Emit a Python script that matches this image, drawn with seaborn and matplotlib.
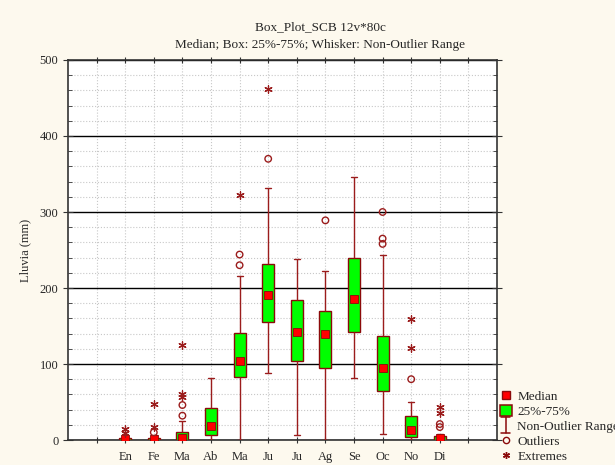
import numpy as np
import pandas as pd
import matplotlib
matplotlib.use("Agg")
import matplotlib.pyplot as plt
import seaborn as sns
from matplotlib.lines import Line2D
from matplotlib.patches import Patch
from matplotlib.legend_handler import HandlerBase
from matplotlib.ticker import MultipleLocator

# ---- data ----
months = ["En", "Fe", "Ma", "Ab", "Ma", "Ju", "Ju", "Ag", "Se", "Oc", "No", "Di"]
whisker_low = [0, 0, 0, 0, 0, 88, 7, 0, 82, 8, 0, 0]
q1 = [0, 0, 0, 6, 83, 155, 104, 95, 142, 65, 4, 0]
median = [1, 1, 3, 18, 104, 191, 142, 139, 186, 95, 13, 2]
q3 = [2, 3, 11, 42, 141, 231, 184, 170, 240, 137, 32, 5]
whisker_high = [4, 6, 25, 82, 216, 331, 238, 222, 346, 244, 50, 8]
outliers = [[], [10], [32, 46], [], [230, 244], [370], [], [289], [],
            [258, 265, 300], [80], [17, 21]]
extremes = [[9, 14], [17, 48], [57, 60, 125], [], [322], [462], [], [], [],
            [], [121, 159], [35, 43]]

title1 = "Box_Plot_SCB 12v*80c"
title2 = "Median; Box: 25%-75%; Whisker: Non-Outlier Range"
ylabel = "Lluvia (mm)"

# ---- style ----
sns.set_style("ticks")
plt.rcParams["font.family"] = ["Liberation Serif", "DejaVu Serif"]
plt.rcParams["font.size"] = 9

BG = "#FDF9EE"
EDGE = "#8B0A0A"
BOXFILL = "#00FF00"

fig = plt.figure(figsize=(6.15, 4.65), dpi=100, facecolor=BG)
ax = fig.add_axes([68 / 615, 1 - 440 / 465, (497 - 68) / 615, (440 - 60) / 465])
ax.set_facecolor("white")

# long table of box statistics (5 values per month -> exact quartiles)
rows = []
for i in range(len(months)):
    for v in (whisker_low[i], q1[i], median[i], q3[i], whisker_high[i]):
        rows.append({"pos": i, "value": v})
box_df = pd.DataFrame(rows)

sns.boxplot(data=box_df, x="pos", y="value", whis=(0, 100), width=0.42,
            color=BOXFILL, linecolor=EDGE, linewidth=1.0, fill=True,
            showfliers=False, medianprops={"visible": False},
            boxprops={"facecolor": BOXFILL, "edgecolor": EDGE},
            whiskerprops={"color": "#9B1C1C"}, capprops={"color": "#9B1C1C"},
            ax=ax, zorder=3)

pos = list(range(len(months)))
sns.scatterplot(x=pos, y=median, marker="s", s=28, color="#FF0000",
                edgecolor=EDGE, linewidth=0.6, ax=ax, zorder=6, legend=False)

ox = [i for i, vals in enumerate(outliers) for _ in vals]
oy = [v for vals in outliers for v in vals]
sns.scatterplot(x=ox, y=oy, marker="o", s=22, facecolors="none",
                edgecolor="#9B1C1C", linewidth=1.0, ax=ax, zorder=6, legend=False)

ex = [i for i, vals in enumerate(extremes) for _ in vals]
ey = [v for vals in extremes for v in vals]
sns.scatterplot(x=ex, y=ey, marker=(6, 2, 0), s=28, color="#9B1C1C",
                edgecolor="#9B1C1C", linewidth=0.9, ax=ax, zorder=6, legend=False)

# ---- axes ----
ax.set_xlim(-2, 13)
ax.set_ylim(0, 500)
ax.set_xticks(range(-1, 13))
ax.set_xticklabels([""] + months + [""])
ax.yaxis.set_major_locator(MultipleLocator(100))
ax.yaxis.set_minor_locator(MultipleLocator(20))
ax.set_xlabel("")
ax.set_ylabel(ylabel, fontsize=9, labelpad=6)
ax.tick_params(axis="x", which="major", direction="inout", length=5, top=True,
               pad=5.5, labelsize=9, color="#333333")
ax.tick_params(axis="y", which="major", direction="inout", length=7,
               labelsize=9, color="#333333", right=True)
ax.tick_params(axis="y", which="minor", direction="in", length=3,
               color="#333333", right=True)

ax.grid(which="major", axis="y", color="black", lw=1.0, ls="-", zorder=0)
ax.grid(which="minor", axis="y", color="#c8c8c8", lw=0.8, ls=":", zorder=0)
ax.grid(which="major", axis="x", color="#c8c8c8", lw=0.8, ls=":", zorder=0)
ax.set_axisbelow(True)
for s in ax.spines.values():
    s.set_visible(True)
    s.set_color("#333333")
    s.set_linewidth(1.2)

fig.text(320 / 615, 1 - 27 / 465, title1, ha="center", va="center", fontsize=9.5)
fig.text(320 / 615, 1 - 45 / 465, title2, ha="center", va="center", fontsize=9.5)


# ---- legend ----
class HandlerWhisker(HandlerBase):
    def create_artists(self, legend, orig_handle, xdescent, ydescent,
                       width, height, fontsize, trans):
        cx = width / 2 - xdescent
        y0 = -ydescent - 1
        y1 = height - ydescent + 2
        cw = width * 0.35
        l1 = Line2D([cx, cx], [y0, y1], color=EDGE, lw=1.1, transform=trans)
        l2 = Line2D([cx - cw, cx + cw], [y0, y0], color=EDGE, lw=1.1, transform=trans)
        l3 = Line2D([cx - cw, cx + cw], [y1, y1], color=EDGE, lw=1.1, transform=trans)
        return [l1, l2, l3]


h_med = Line2D([], [], marker="s", ls="", color="#FF0000", markeredgecolor=EDGE,
               markersize=5.5)
h_box = Patch(facecolor=BOXFILL, edgecolor=EDGE, lw=1.1)
h_wh = object()
h_out = Line2D([], [], marker="o", ls="", markerfacecolor="none",
               markeredgecolor=EDGE, markersize=4.5)
h_ext = Line2D([], [], marker=(6, 2, 0), ls="", color=EDGE, markersize=5)

leg = fig.legend([h_med, h_box, h_wh, h_out, h_ext],
                 ["Median", "25%-75%", "Non-Outlier Range", "Outliers", "Extremes"],
                 handler_map={h_wh: HandlerWhisker()},
                 loc="upper left", bbox_to_anchor=(497 / 615, 1 - 387 / 465),
                 frameon=False, fontsize=9.5, handlelength=0.9, handleheight=1.0,
                 handletextpad=0.45, labelspacing=0.12, borderaxespad=0,
                 borderpad=0.2)

fig.savefig("out.png", dpi=100, facecolor=BG)
